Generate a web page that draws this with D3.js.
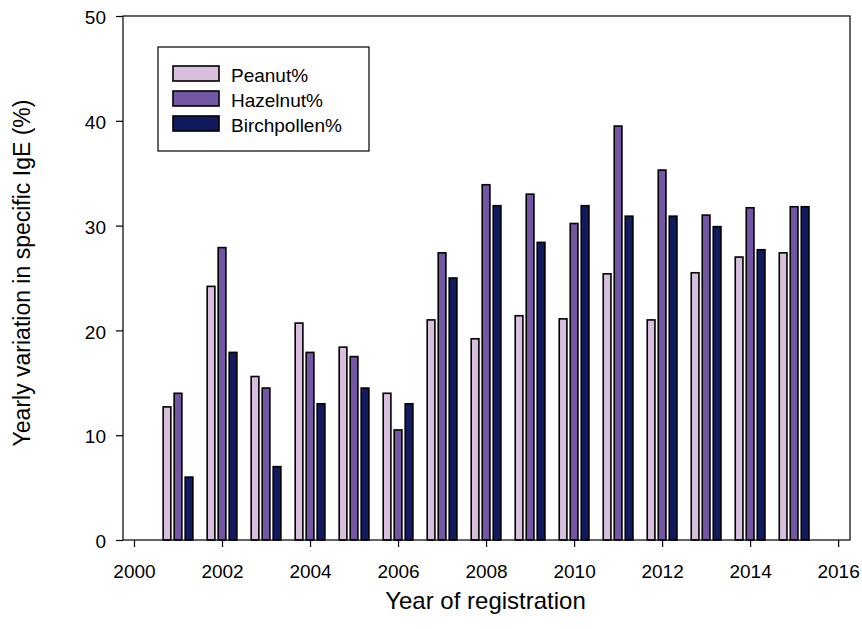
<!DOCTYPE html>
<html>
<head>
<meta charset="utf-8">
<script src="https://cdn.jsdelivr.net/npm/d3@7/dist/d3.min.js"></script>
<style>
  html, body { margin: 0; padding: 0; background: #fff; }
  svg { display: block; font-family: "Liberation Sans", Arial, sans-serif; }
</style>
</head>
<body>
<svg id="chart" width="862" height="629"></svg>
<script>
// Registration years and yearly variation (%) per allergen
const years = [2001, 2002, 2003, 2004, 2005, 2006, 2007, 2008, 2009, 2010, 2011, 2012, 2013, 2014, 2015];
const peanut = [12.7, 24.2, 15.6, 20.7, 18.4, 14.0, 21.0, 19.2, 21.4, 21.1, 25.4, 21.0, 25.5, 27.0, 27.4];
const hazelnut = [14.0, 27.9, 14.5, 17.9, 17.5, 10.5, 27.4, 33.9, 33.0, 30.2, 39.5, 35.3, 31.0, 31.7, 31.8];
const birchpollen = [6.0, 17.9, 7.0, 13.0, 14.5, 13.0, 25.0, 31.9, 28.4, 31.9, 30.9, 30.9, 29.9, 27.7, 31.8];

const seriesNames = ["Peanut%", "Hazelnut%", "Birchpollen%"];
const seriesColors = ["#d7bfdd", "#7457a4", "#111a5e"];
const xTicks = [2000, 2002, 2004, 2006, 2008, 2010, 2012, 2014, 2016];
const yTicks = [0, 10, 20, 30, 40, 50];

const series = [peanut, hazelnut, birchpollen];

const svg = d3.select("#chart");
const plotL = 123, plotR = 850, plotT = 16, plotB = 540;

const x = d3.scaleLinear().domain([1999.75, 2016.27]).range([plotL, plotR]);
const y = d3.scaleLinear().domain([0, 50]).range([plotB, plotT]);

// Bars: three per year, offset around the year position
const offset = 0.25;      // years between neighbouring bars
const barW = 0.175;       // bar width in years
series.forEach((vals, si) => {
  const shift = (si - 1) * offset;
  svg.append("g")
    .selectAll("rect")
    .data(years.map((yr, i) => ({ yr, v: vals[i] })))
    .join("rect")
    .attr("x", d => x(d.yr + shift - barW / 2))
    .attr("width", d => x(d.yr + shift + barW / 2) - x(d.yr + shift - barW / 2))
    .attr("y", d => y(d.v))
    .attr("height", d => y(0) - y(d.v))
    .attr("fill", seriesColors[si])
    .attr("stroke", "#000")
    .attr("stroke-width", 1.6);
});

// Plot frame
svg.append("rect")
  .attr("x", plotL).attr("y", plotT)
  .attr("width", plotR - plotL).attr("height", plotB - plotT)
  .attr("fill", "none").attr("stroke", "#000").attr("stroke-width", 1.2);

// Axes
const xAxis = svg.append("g")
  .attr("transform", `translate(0,${plotB})`)
  .call(d3.axisBottom(x).tickValues(xTicks).tickFormat(d3.format("d")).tickSize(7).tickPadding(18));
const yAxis = svg.append("g")
  .attr("transform", `translate(${plotL},0)`)
  .call(d3.axisLeft(y).tickValues(yTicks).tickFormat(d3.format("d")).tickSize(7).tickPadding(10));

[xAxis, yAxis].forEach(g => {
  g.select(".domain").remove();
  g.selectAll(".tick line").attr("stroke", "#000").attr("stroke-width", 1.2);
  g.selectAll(".tick text")
    .attr("fill", "#000")
    .style("font-family", "'Liberation Sans', Arial, sans-serif")
    .style("font-size", "19px");
});
yAxis.selectAll(".tick text").attr("dy", "0.4em");

// Axis titles
svg.append("text")
  .attr("x", (plotL + plotR) / 2 - 1).attr("y", 609)
  .attr("text-anchor", "middle")
  .style("font-size", "24px")
  .text("Year of registration");

svg.append("text")
  .attr("transform", "translate(30,273) rotate(-90)")
  .attr("text-anchor", "middle")
  .style("font-size", "23px")
  .text("Yearly variation in specific IgE (%)");

// Legend
const legend = svg.append("g");
legend.append("rect")
  .attr("x", 158).attr("y", 47).attr("width", 211).attr("height", 104)
  .attr("fill", "#fff").attr("stroke", "#000").attr("stroke-width", 1.2);
seriesNames.forEach((name, i) => {
  const rowY = 66 + i * 25;
  legend.append("rect")
    .attr("x", 173).attr("y", rowY).attr("width", 46).attr("height", 15)
    .attr("fill", seriesColors[i]).attr("stroke", "#000").attr("stroke-width", 1.6);
  legend.append("text")
    .attr("x", 231).attr("y", rowY + 15.5)
    .style("font-size", "19px")
    .text(name);
});
</script>
</body>
</html>
